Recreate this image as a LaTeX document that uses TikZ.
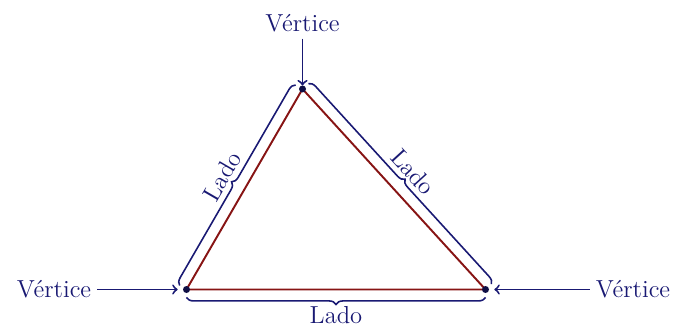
\documentclass[tikz,border=0pt]{standalone}
\usepackage{tikz}
\usetikzlibrary{decorations.pathreplacing}
\definecolor{azul}{RGB}{25,25,115}
\definecolor{rojo}{RGB}{135,20,20}

\begin{document}
\begin{tikzpicture}[
  lado/.style={azul, line width=0.9pt, decorate, decoration={brace, amplitude=4pt, raise=4.5pt}},
  flecha/.style={->, azul, line width=1.1pt},
  etq/.style={text=azul, font=\fontsize{14}{17}\selectfont}]
\useasboundingbox (0,0) rectangle (13.74,6.58);

\coordinate (vL) at (3.73,0.79);
\coordinate (vT) at (6.05,4.80);
\coordinate (vR) at (9.71,0.79);

\draw[rojo, line width=1.1pt] (vL)--(vT)--(vR)--cycle;

\draw[lado] (vL) -- (vT) node[etq, midway, sloped, above=6pt] {Lado};
\draw[lado] (vT) -- (vR) node[etq, midway, sloped, above=6pt] {Lado};
\draw[lado] (vR) -- (vL) node[etq, midway, below=6pt] {Lado};

\foreach \v in {vL,vT,vR}
    \fill[azul!60!black] (\v) circle (0.07);

\node[etq] (eT) at (6.05,6.11) {Vértice};
\node[etq] (eL) at (1.08,0.79) {Vértice};
\node[etq] (eR) at (12.66,0.79) {Vértice};

\draw[flecha, shorten >=2pt] (eT) -- (vT);
\draw[flecha, shorten >=5pt] (eL) -- (vL);
\draw[flecha, shorten >=5pt] (eR) -- (vR);

\end{tikzpicture}
\end{document}
